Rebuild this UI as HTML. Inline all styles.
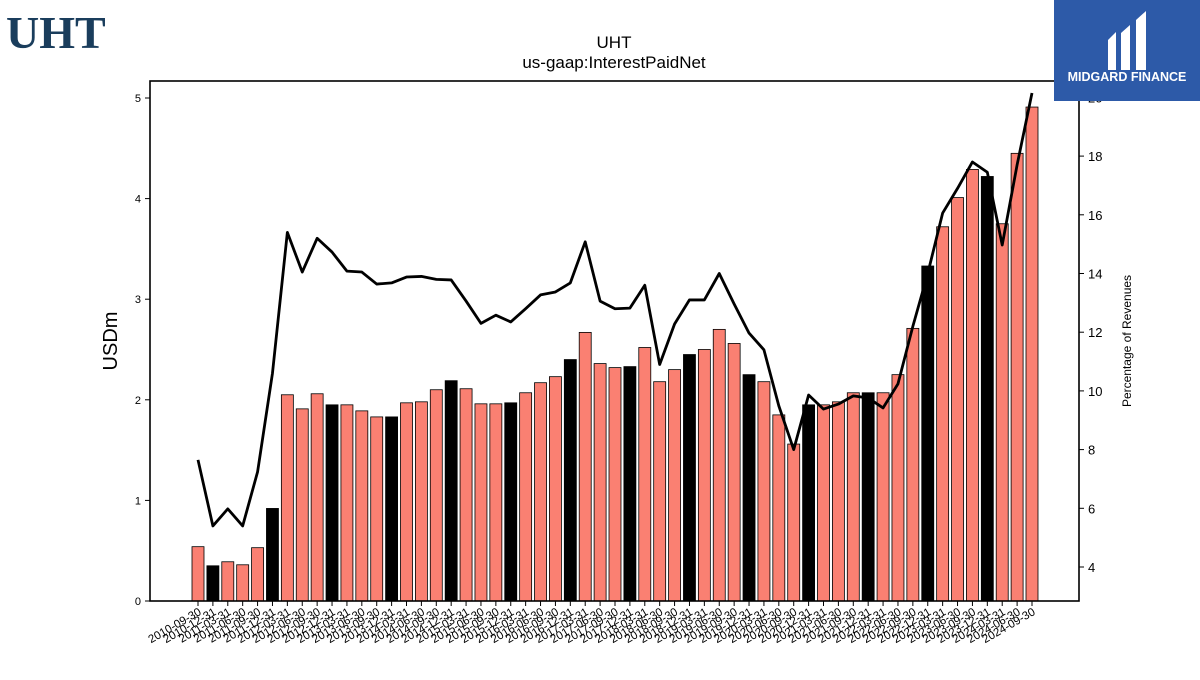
<!DOCTYPE html>
<html><head><meta charset="utf-8"><style>
body{margin:0;background:#fff;width:1200px;height:675px;overflow:hidden;font-family:"Liberation Sans",sans-serif}
</style></head><body>
<svg id="c" width="1200" height="675" xmlns="http://www.w3.org/2000/svg" font-family="Liberation Sans, DejaVu Sans, sans-serif">
<text x="6" y="48" font-family="Liberation Serif, serif" font-weight="bold" font-size="46" fill="#1a3d5c">UHT</text>
<text x="614" y="48" text-anchor="middle" font-size="17">UHT</text>
<text x="614" y="68" text-anchor="middle" font-size="17">us-gaap:InterestPaidNet</text>
<text transform="translate(117,341) rotate(-90)" text-anchor="middle" font-size="20">USDm</text>
<text transform="translate(1131,341) rotate(-90)" text-anchor="middle" font-size="12">Percentage of Revenues</text>
<g id="g"></g>
<g>
<rect x="1054" y="0" width="146" height="101" fill="#2d5aa8"/>
<path d="M1108 40 L1116 32 L1116 70 L1108 70 Z M1121 33 L1130 25 L1130 70 L1121 70 Z M1136 20 L1146 11 L1146 70 L1136 70 Z" fill="#fff"/>
<text x="1127" y="81" text-anchor="middle" font-size="12.5" font-weight="bold" fill="#fff">MIDGARD FINANCE</text>
</g>
</svg>
<script>
const categories=["2010-09-30","2010-12-31","2011-03-31","2011-06-30","2011-09-30","2011-12-31","2012-03-31","2012-06-30","2012-09-30","2012-12-31","2013-03-31","2013-06-30","2013-09-30","2013-12-31","2014-03-31","2014-06-30","2014-09-30","2014-12-31","2015-03-31","2015-06-30","2015-09-30","2015-12-31","2016-03-31","2016-06-30","2016-09-30","2016-12-31","2017-03-31","2017-06-30","2017-09-30","2017-12-31","2018-03-31","2018-06-30","2018-09-30","2018-12-31","2019-03-31","2019-06-30","2019-09-30","2019-12-31","2020-03-31","2020-06-30","2020-09-30","2020-12-31","2021-03-31","2021-06-30","2021-09-30","2021-12-31","2022-03-31","2022-06-30","2022-09-30","2022-12-31","2023-03-31","2023-06-30","2023-09-30","2023-12-31","2024-03-31","2024-06-30","2024-09-30"];
const interestPaid=[0.54,0.35,0.39,0.36,0.53,0.92,2.05,1.91,2.06,1.95,1.95,1.89,1.83,1.83,1.97,1.98,2.10,2.19,2.11,1.96,1.96,1.97,2.07,2.17,2.23,2.40,2.67,2.36,2.32,2.33,2.52,2.18,2.30,2.45,2.50,2.70,2.56,2.25,2.18,1.85,1.56,1.95,1.95,1.98,2.07,2.07,2.07,2.25,2.71,3.33,3.72,4.01,4.29,4.22,3.75,4.45,4.91];
const pctRevenue=[7.65,5.4,5.98,5.4,7.24,10.6,15.4,14.05,15.2,14.73,14.08,14.05,13.64,13.68,13.88,13.9,13.8,13.78,13.06,12.3,12.58,12.35,12.8,13.27,13.37,13.68,15.08,13.06,12.8,12.82,13.6,10.9,12.28,13.1,13.1,14.0,12.96,11.97,11.4,9.49,8.0,9.86,9.38,9.55,9.83,9.76,9.42,10.24,12.2,14.0,16.06,16.9,17.8,17.45,14.97,17.7,20.15];
const leftTicks=[0,1,2,3,4,5];
const rightTicks=[4,6,8,10,12,14,16,18,20];
const L=150,R=1079,T=81,B=601;
const x=i=>198+i*(1032-198)/(categories.length-1);
const y=v=>B-v*100.6;
const y2=v=>567-(v-4)*29.35;
const g=document.getElementById('g');
const NS='http://www.w3.org/2000/svg';
function mk(t,a){const e=document.createElementNS(NS,t);for(const k in a)e.setAttribute(k,a[k]);g.appendChild(e);return e;}
const bw=12;
interestPaid.forEach((v,i)=>{
 const r=mk('rect',{x:x(i)-bw/2,y:y(v),width:bw,height:B-y(v),fill:(i%4==1)?'#000':'#fa8072',stroke:'#000','stroke-width':0.8});
 
 
});
const p=mk('polyline',{points:pctRevenue.map((v,i)=>x(i)+','+y2(v)).join(' '),fill:'none',stroke:'#000','stroke-width':2.8,'stroke-linejoin':'round'});


const f=mk('rect',{x:L,y:T,width:R-L,height:B-T,fill:'none',stroke:'#000','stroke-width':1.6});


leftTicks.forEach(v=>{
 mk('line',{x1:L-5,x2:L,y1:y(v),y2:y(v),stroke:'#000'});
 const t=mk('text',{x:L-9,y:y(v)+4,'text-anchor':'end','font-size':11});t.textContent=v;
 
 
});
rightTicks.forEach(v=>{
 mk('line',{x1:R,x2:R+5,y1:y2(v),y2:y2(v),stroke:'#000'});
 const t=mk('text',{x:R+9,y:y2(v)+5,'font-size':13});t.textContent=v;
 
 
});
categories.forEach((c,i)=>{
 mk('line',{x1:x(i),x2:x(i),y1:B,y2:B+5,stroke:'#000'});
 const t=mk('text',{transform:`translate(${x(i)+4},${B+13}) rotate(-30)`,'text-anchor':'end','font-size':11.5});t.textContent=c;
 
 
});
</script>
</body></html>
